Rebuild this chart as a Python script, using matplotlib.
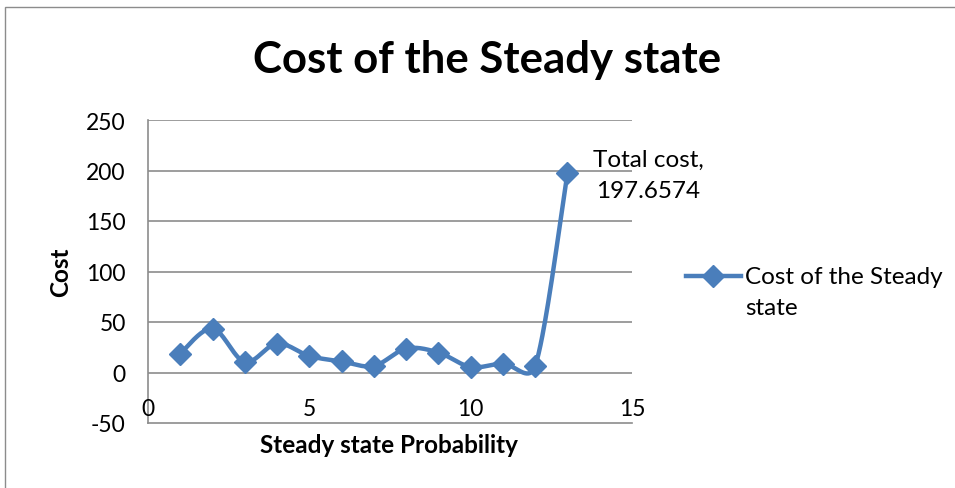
import numpy as np
import matplotlib
matplotlib.use("Agg")
import matplotlib.pyplot as plt
from matplotlib.lines import Line2D
from matplotlib.patches import Rectangle

plt.rcParams['font.family'] = ['Lato', 'DejaVu Sans']

# Data
x_vals = [1, 2, 3, 4, 5, 6, 7, 8, 9, 10, 11, 12, 13]
costs = [18.8, 43.5, 10.5, 28.7, 16.4, 10.9, 6.5, 23.7, 19.8, 5.5, 8.9, 6.5, 197.6574]
series_name = "Cost of the Steady state"
title = "Cost of the Steady state"
x_label = "Steady state Probability"
y_label = "Cost"
x_ticks = [0, 5, 10, 15]
y_ticks = [-50, 0, 50, 100, 150, 200, 250]
label_text = "Total cost,\n197.6574"

COLOR = '#4A7EBB'
GRID = '#8C8C8C'

W, H = 955, 489
L, R, T, B = 148, 632, 121, 424
XMIN, XMAX, YMIN, YMAX = 0, 15, -50, 250


def smooth(xs, ys, n=40, cap=0.6):
    """Catmull-Rom Bezier smoothing in pixel space, control arms capped by chord length."""
    sxp = (R - L) / (XMAX - XMIN)
    syp = (B - T) / (YMAX - YMIN)
    P = np.column_stack([np.asarray(xs, float) * sxp, np.asarray(ys, float) * syp])
    npts = len(P)
    out = []

    def arm(v, chord):
        ln = np.hypot(*v)
        lim = cap * chord
        if ln > lim and ln > 0:
            v = v * lim / ln
        return v

    for i in range(npts - 1):
        p1, p2 = P[i], P[i + 1]
        chord = np.hypot(*(p2 - p1))
        p0 = P[i - 1] if i > 0 else p1
        p3 = P[i + 2] if i + 2 < npts else p2
        c1 = p1 + arm((p2 - p0) / 6.0, chord)
        c2 = p2 - arm((p3 - p1) / 6.0, chord)
        t = np.linspace(0, 1, n)[:, None]
        seg = ((1 - t) ** 3) * p1 + 3 * ((1 - t) ** 2) * t * c1 + 3 * (1 - t) * t ** 2 * c2 + t ** 3 * p2
        if i > 0:
            seg = seg[1:]
        out.append(seg)
    out = np.vstack(out)
    return out[:, 0] / sxp, out[:, 1] / syp


fig = plt.figure(figsize=(W / 100, H / 100), dpi=100)
fig.patch.set_facecolor('white')

# outer chart border (cropped on right/bottom)
fig.add_artist(Rectangle((5 / W, -0.1), 1.2, 1 - 8 / H + 0.1, transform=fig.transFigure,
                         fill=False, edgecolor='#8C8C8C', linewidth=1.0))

ax = fig.add_axes([L / W, 1 - B / H, (R - L) / W, (B - T) / H])
ax.set_xlim(XMIN, XMAX)
ax.set_ylim(YMIN, YMAX)

for s in ['top', 'right']:
    ax.spines[s].set_visible(False)
for s in ['left', 'bottom']:
    ax.spines[s].set_color(GRID)
    ax.spines[s].set_linewidth(1.2)

ax.set_yticks(y_ticks)
ax.set_yticklabels([str(v) for v in y_ticks])
ax.tick_params(axis='y', length=0, pad=16, labelsize=16.5, colors='black')
ax.set_xticks([])
for v in y_ticks:
    if v > YMIN:
        ax.axhline(v, color=GRID, linewidth=1.2, zorder=0)

# x tick labels sit just above the bottom axis line
for v in x_ticks:
    ax.text(v, -36, str(v), ha='center', va='center', fontsize=16.5)

sx, sy = smooth(x_vals, costs)
ax.plot(sx, sy, color=COLOR, linewidth=3.2, solid_capstyle='round', zorder=3, clip_on=False)
ax.plot(x_vals, costs, linestyle='none', marker='D', markersize=11, color=COLOR, zorder=4, clip_on=False)

fig.text(648 / W, 1 - 176 / H, label_text, ha='center', va='center', fontsize=17.5,
         linespacing=1.55, multialignment='center')

fig.text(487 / W, 1 - 60 / H, title, ha='center', va='center', fontsize=31.5, fontweight='bold')
fig.text(389 / W, 1 - 446 / H, x_label, ha='center', va='center', fontsize=17.5, fontweight='bold')
fig.text(61 / W, 1 - 272 / H, y_label, ha='center', va='center', fontsize=17.5, fontweight='bold', rotation=90)

# legend
fig.add_artist(Line2D([686 / W, 741 / W], [1 - 277 / H, 1 - 277 / H], transform=fig.transFigure,
                      color=COLOR, linewidth=3.2))
fig.add_artist(Line2D([713 / W], [1 - 277 / H], transform=fig.transFigure, color=COLOR,
                      marker='D', markersize=11, linestyle='none'))
fig.text(745 / W, 1 - 293 / H, "Cost of the Steady\nstate", ha='left', va='center', fontsize=17.5,
         linespacing=1.6)

fig.savefig('out.png', dpi=100, facecolor='white')
